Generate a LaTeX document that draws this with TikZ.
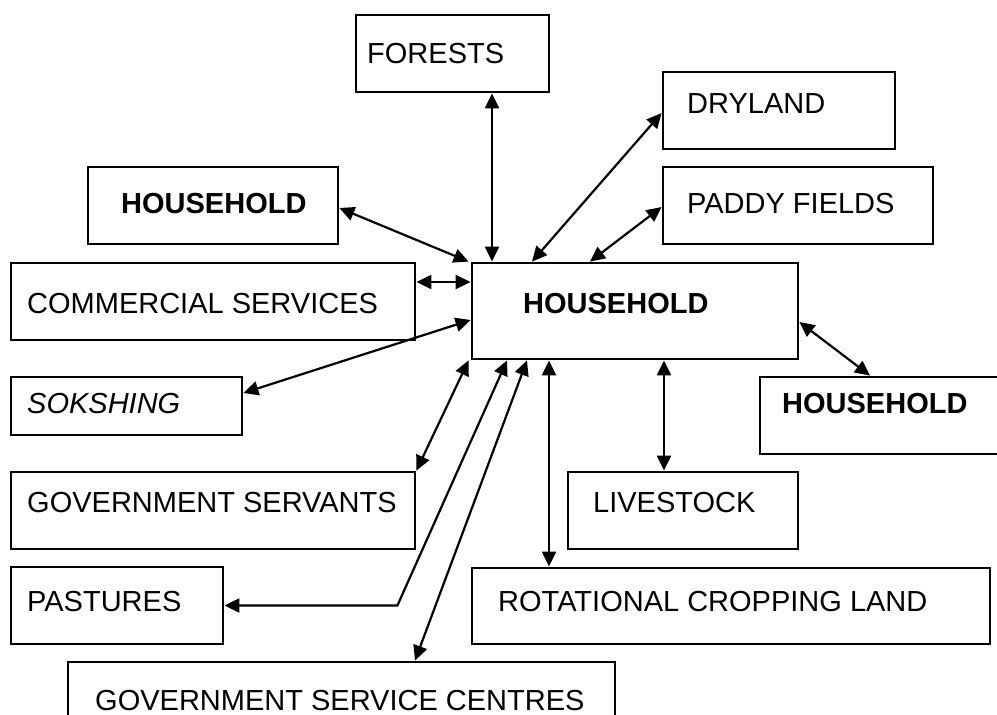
\documentclass[tikz,border=0pt]{standalone}
\usepackage{fontspec}
\setmainfont{Liberation Sans}
\usetikzlibrary{arrows.meta}
\begin{document}
\begin{tikzpicture}[x=1pt,y=-1pt,
  box/.style={draw=black, line width=2.8pt, rectangle, inner sep=0pt, fill=white},
  lbl/.style={inner sep=0pt, anchor=base west, font=\fontsize{29}{34}\selectfont},
  link/.style={line width=2.2pt, {Triangle[length=15pt,width=14pt]}-{Triangle[length=15pt,width=14pt]}}]
\useasboundingbox (0,0) rectangle (997,715);
\fill[white] (0,0) rectangle (997,715);

% boxes
\node[box, minimum width=193pt, minimum height=77pt] (forests)    at (452.5,53.5) {};
\node[box, minimum width=232pt, minimum height=77pt] (dryland)    at (779,110.5) {};
\node[box, minimum width=250pt, minimum height=77pt] (hhleft)     at (213,205.5) {};
\node[box, minimum width=270pt, minimum height=77pt] (paddy)      at (798,205.5) {};
\node[box, minimum width=404pt, minimum height=77pt] (commercial) at (213,301.5) {};
\node[box, minimum width=326pt, minimum height=96pt] (central)    at (635,311) {};
\node[box, minimum width=231pt, minimum height=58pt] (sokshing)   at (126.5,406) {};
\node[box, minimum width=250pt, minimum height=77pt] (hhright)    at (885,415.5) {};
\node[box, minimum width=404pt, minimum height=77pt] (govserv)    at (213,510.5) {};
\node[box, minimum width=230pt, minimum height=77pt] (livestock)  at (683,510.5) {};
\node[box, minimum width=212pt, minimum height=77pt] (pastures)   at (117,605.5) {};
\node[box, minimum width=518pt, minimum height=76pt] (rotational) at (731,606) {};
\node[box, minimum width=547pt, minimum height=78pt] (gsc)        at (341.5,701) {};

% labels
\node[lbl] (forests-t)    at (367,63)  {FORESTS};
\node[lbl] (dryland-t)    at (687,113) {DRYLAND};
\node[lbl] (hhleft-t)     at (121,213) {\bfseries HOUSEHOLD};
\node[lbl] (paddy-t)      at (687,213) {PADDY FIELDS};
\node[lbl] (commercial-t) at (27,313)  {COMMERCIAL SERVICES};
\node[lbl] (central-t)    at (523,313) {\bfseries HOUSEHOLD};
\node[lbl] (sokshing-t)   at (27,413)  {\itshape SOKSHING};
\node[lbl] (hhright-t)    at (782,413) {\bfseries HOUSEHOLD};
\node[lbl] (govserv-t)    at (27,512)  {GOVERNMENT SERVANTS};
\node[lbl] (livestock-t)  at (593,512) {LIVESTOCK};
\node[lbl] (pastures-t)   at (27,611)  {PASTURES};
\node[lbl] (rotational-t) at (498,611) {ROTATIONAL CROPPING LAND};
\node[lbl] (gsc-t)        at (95,710)  {GOVERNMENT SERVICE CENTRES};

% two-way links to the central household
\draw[link] ([xshift=39.5pt]forests.south) -- ([xshift=-143pt]central.north);
\draw[link] ([yshift=-2.5pt]dryland.west) -- ([xshift=-103pt]central.north);
\draw[link] ([yshift=-1.5pt]paddy.west) -- ([xshift=-45pt]central.north);
\draw[link] ([yshift=-2.5pt]hhleft.east) -- ([xshift=-2pt]central.north west);
\draw[link] ([yshift=19.5pt]commercial.east) -- ([yshift=19.5pt]commercial.east -| central.west);
\draw[link] ([yshift=13pt]sokshing.east) -- ([yshift=-9pt]central.west);
\draw[link] (govserv.north east) -- ([xshift=-2pt]central.south west);
\draw[link] ([xshift=-128pt]central.south) -- ([xshift=173pt]pastures.east) -- (pastures.east);
\draw[link] ([xshift=-108pt]central.south) -- ([xshift=73.5pt]gsc.north);
\draw[link] ([xshift=-86pt]central.south) -- ([xshift=-182pt]rotational.north);
\draw[link] ([xshift=29pt]central.south) -- ([xshift=-19pt]livestock.north);
\draw[link] ([yshift=-11pt]central.east) -- ([xshift=-15pt]hhright.north);
\end{tikzpicture}
\end{document}
